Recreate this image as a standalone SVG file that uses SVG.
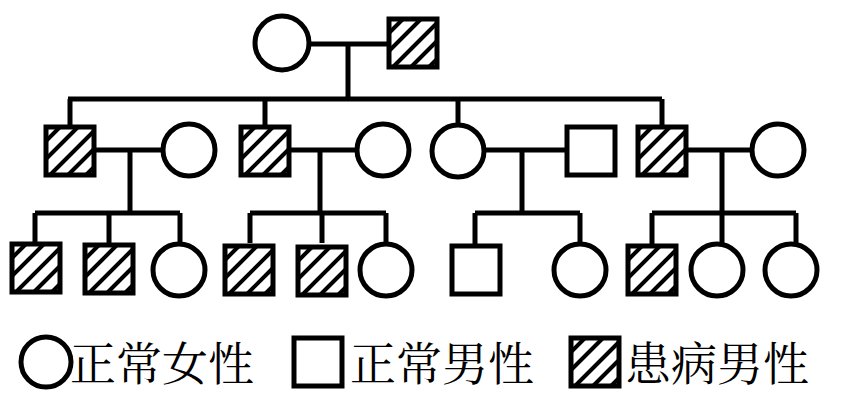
<svg xmlns="http://www.w3.org/2000/svg" width="865" height="409" viewBox="0 0 865 409">
<style>
.s{fill:none;stroke:#000;stroke-width:5}
.h{stroke:#000;stroke-width:4}
.t{font-family:"Noto Serif CJK SC","Noto Sans CJK SC",serif;font-size:46px;fill:#000}
</style>
<defs>
<g id="hsq"><path class="h" d="M0,14L14,0M0,32L32,0M4,48L48,4M22,48L48,22M40,48L48,40"/><rect class="s" x="0" y="0" width="48" height="48"/></g>
<rect id="sq" class="s" x="0" y="0" width="48" height="48"/>
</defs>
<rect width="865" height="409" fill="#fff"/>
<g id="connectors" class="s">
<path d="M309,44H388M348,44V99M68,99H662M70,99V127M265,99V127M458,99V125M662,99V127"/>
<path d="M94,150H164M130,150V213M35,213H180M35,213V243M109,213V243M180,213V243"/>
<path d="M289,150H357M320,150V213M250,213H386M250,213V243M322,213V243M386,213V243"/>
<path d="M484,150H567M522,150V213M475,213H580M475,213V245M580,213V243"/>
<path d="M686,150H753M722,150V213M652,213H796M652,213V245M722,213V243M796,213V243"/>
</g>
<g id="g1f"><circle class="s" cx="282" cy="43" r="27"/></g>
<g id="g1m"><use href="#hsq" x="389" y="19"/></g>
<g id="g2a"><use href="#hsq" x="46" y="127"/></g>
<g id="g2b"><circle class="s" cx="189" cy="150" r="26"/></g>
<g id="g2c"><use href="#hsq" x="241" y="127"/></g>
<g id="g2d"><circle class="s" cx="383" cy="150" r="26"/></g>
<g id="g2e"><circle class="s" cx="458" cy="151" r="26"/></g>
<g id="g2f"><use href="#sq" x="567" y="127"/></g>
<g id="g2g"><use href="#hsq" x="638" y="127"/></g>
<g id="g2h"><circle class="s" cx="778" cy="150" r="26"/></g>
<g id="g3a"><use href="#hsq" x="12" y="244"/></g>
<g id="g3b"><use href="#hsq" x="85" y="245"/></g>
<g id="g3c"><circle class="s" cx="179" cy="270" r="26"/></g>
<g id="g3d"><use href="#hsq" x="225" y="246"/></g>
<g id="g3e"><use href="#hsq" x="298" y="247"/></g>
<g id="g3f"><circle class="s" cx="386" cy="270" r="26"/></g>
<g id="g3g"><use href="#sq" x="452" y="246"/></g>
<g id="g3h"><circle class="s" cx="580" cy="270" r="26"/></g>
<g id="g3i"><use href="#hsq" x="628" y="246"/></g>
<g id="g3j"><circle class="s" cx="717" cy="270" r="26"/></g>
<g id="g3k"><circle class="s" cx="791" cy="270" r="26"/></g>
<g id="legend">
<circle class="s" cx="46" cy="362" r="25"/>
<text class="t" x="70" y="380">正常女性</text>
<use href="#sq" x="294" y="338"/>
<text class="t" x="350" y="380">正常男性</text>
<use href="#hsq" x="571" y="338"/>
<text class="t" x="625" y="380">患病男性</text>
</g>
</svg>
